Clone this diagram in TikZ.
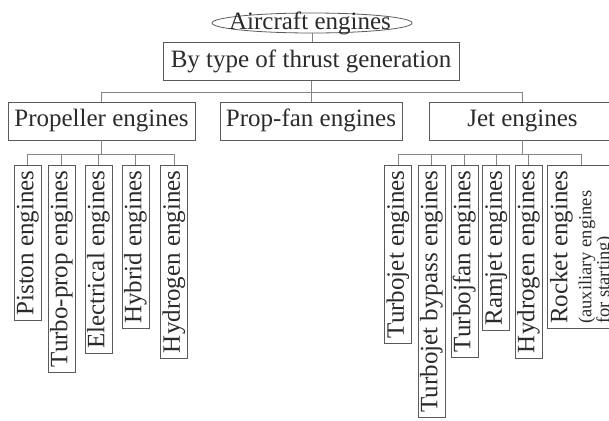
\documentclass[tikz,border=0pt]{standalone}
\usepackage{fontspec}
\setmainfont{Liberation Serif}
\usetikzlibrary{shapes.geometric}
\definecolor{txt}{HTML}{2B2B2B}
\definecolor{boxc}{HTML}{5A5A5A}
\definecolor{linec}{HTML}{858585}
\begin{document}
\begin{tikzpicture}[x=1bp,y=-1bp,
  every node/.style={text=txt},
  bigfont/.style={font=\fontsize{25bp}{30bp}\selectfont},
  hbox/.style={draw=boxc, line width=0.8bp, bigfont, text height=17bp, text depth=5.5bp, minimum height=38bp, inner sep=2bp},
  vbox/.style={draw=boxc, line width=0.8bp, bigfont, rotate=90, anchor=east, text height=17bp, text depth=5.5bp, inner xsep=5bp, inner ysep=2.25bp},
  rbox/.style={draw=boxc, line width=0.8bp, rotate=90, anchor=north east, align=left, font=\fontsize{18.5bp}{18bp}\selectfont, inner xsep=5bp, inner ysep=2.5bp},
  conn/.style={draw=linec, line width=0.8bp}]
\useasboundingbox (0,0) rectangle (609,420);

% root
\node[ellipse, draw=boxc, line width=0.8bp, minimum width=200bp, minimum height=20bp, inner sep=0pt] (root) at (312,23) {};
\node[bigfont, inner sep=0pt] (roottxt) at (310,23) {Aircraft engines};

% level 1
\node[hbox, minimum width=296bp] (gen) at (311,61.5) {By type of thrust generation};

% level 2
\node[hbox, minimum width=187bp] (prop) at (101.5,121) {Propeller engines};
\node[hbox, minimum width=182bp] (pfan) at (311,121) {Prop-fan engines};
\node[hbox, minimum width=187bp] (jet) at (522.5,121) {Jet engines};

% propeller children
\node[vbox] (piston) at (27.5,165) {Piston engines};
\node[vbox] (turbo) at (61.5,165) {Turbo-prop engines};
\node[vbox] (elec) at (98.5,165) {Electrical engines};
\node[vbox] (hybrid) at (135.5,165) {Hybrid engines};
\node[vbox] (hydro) at (174,165) {Hydrogen engines};

% jet children
\node[vbox] (tjet) at (398,165) {Turbojet engines};
\node[vbox] (tbyp) at (431.5,165) {Turbojet bypass engines};
\node[vbox] (tfan) at (464.5,165) {Turbojfan engines};
\node[vbox] (ram) at (496,165) {Ramjet engines};
\node[vbox] (jhydro) at (528.5,165) {Hydrogen engines};
\node[rbox] (rocket) at (547,165) {{\fontsize{25bp}{25bp}\selectfont Rocket engines}\\[5bp](auxiliary engines\\for starting)};

% connectors
\draw[conn] (root.south) -- (root.south |- gen.north);
\draw[conn] (gen.south) -- (pfan.north);
\draw[conn] (prop.north) -- ++(0,-9) -| (jet.north);
\foreach \c in {piston,turbo,elec,hybrid,hydro}
  \draw[conn] (prop.south) -- ++(0,14) -| (\c.east);
\foreach \c in {tjet,tbyp,tfan,ram,jhydro,rocket}
  \draw[conn] (jet.south) -- ++(0,14) -| (\c.east);
\end{tikzpicture}
\end{document}
